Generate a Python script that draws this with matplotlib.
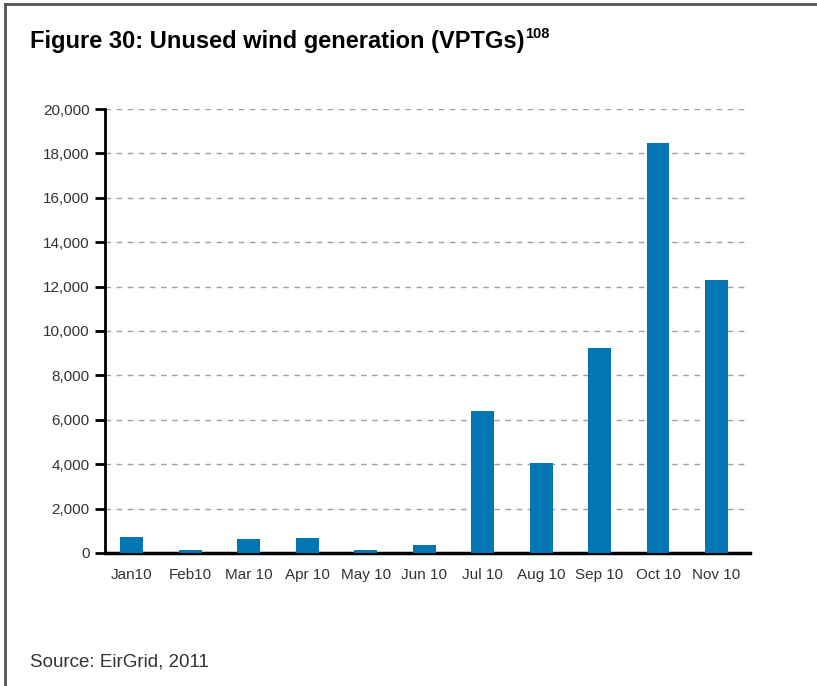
import matplotlib
matplotlib.use("Agg")
import matplotlib.pyplot as plt
from matplotlib.lines import Line2D

months = ["Jan10", "Feb10", "Mar 10", "Apr 10", "May 10", "Jun 10",
          "Jul 10", "Aug 10", "Sep 10", "Oct 10", "Nov 10"]
unused = [720, 135, 630, 680, 130, 360, 6400, 4050, 9230, 18470, 12300]
yticks = list(range(0, 20001, 2000))

plt.rcParams['font.family'] = ['Liberation Sans', 'DejaVu Sans']

fig = plt.figure(figsize=(8.17, 6.86), dpi=100)
ax = fig.add_axes([0.1285, 0.194, 0.79, 0.647])

x = range(len(months))
ax.bar(x, unused, width=0.39, color='#0077b3', zorder=3)

ax.set_xlim(-0.46, 10.58)
ax.set_ylim(0, 20000)
ax.set_yticks(yticks)
ax.set_yticklabels([f"{v:,}" for v in yticks])
ax.set_xticks(list(x))
ax.set_xticklabels(months)

ax.tick_params(axis='y', direction='out', length=7, width=2, color='black',
               labelsize=11, labelcolor='#333333', pad=4)
ax.tick_params(axis='x', length=0, labelsize=11, labelcolor='#333333', pad=11)

for s in ['top', 'right']:
    ax.spines[s].set_visible(False)
ax.spines['left'].set_linewidth(2)
ax.spines['bottom'].set_linewidth(2.5)
ax.yaxis.grid(True, linestyle=(0, (4, 4)), color='#a0a0a0', linewidth=1, zorder=0)
ax.set_axisbelow(True)

# outer frame (only top and left visible in the crop)
fig.add_artist(Line2D([0.006, 1.0], [0.994, 0.994], transform=fig.transFigure,
                      color='#555555', linewidth=2))
fig.add_artist(Line2D([0.006, 0.006], [0.0, 0.994], transform=fig.transFigure,
                      color='#555555', linewidth=2))

title = fig.text(0.0367, 0.930, "Figure 30: Unused wind generation (VPTGs)",
                 fontsize=17, fontweight='bold', color='black')
fig.canvas.draw()
bb = title.get_window_extent()
fig.text(bb.x1 / fig.bbox.width + 0.001, 0.9446, "108",
         fontsize=10.5, fontweight='bold', color='black')

fig.text(0.0367, 0.029, "Source: EirGrid, 2011", fontsize=13.5, color='#333333')

fig.savefig("out.png", dpi=100)
